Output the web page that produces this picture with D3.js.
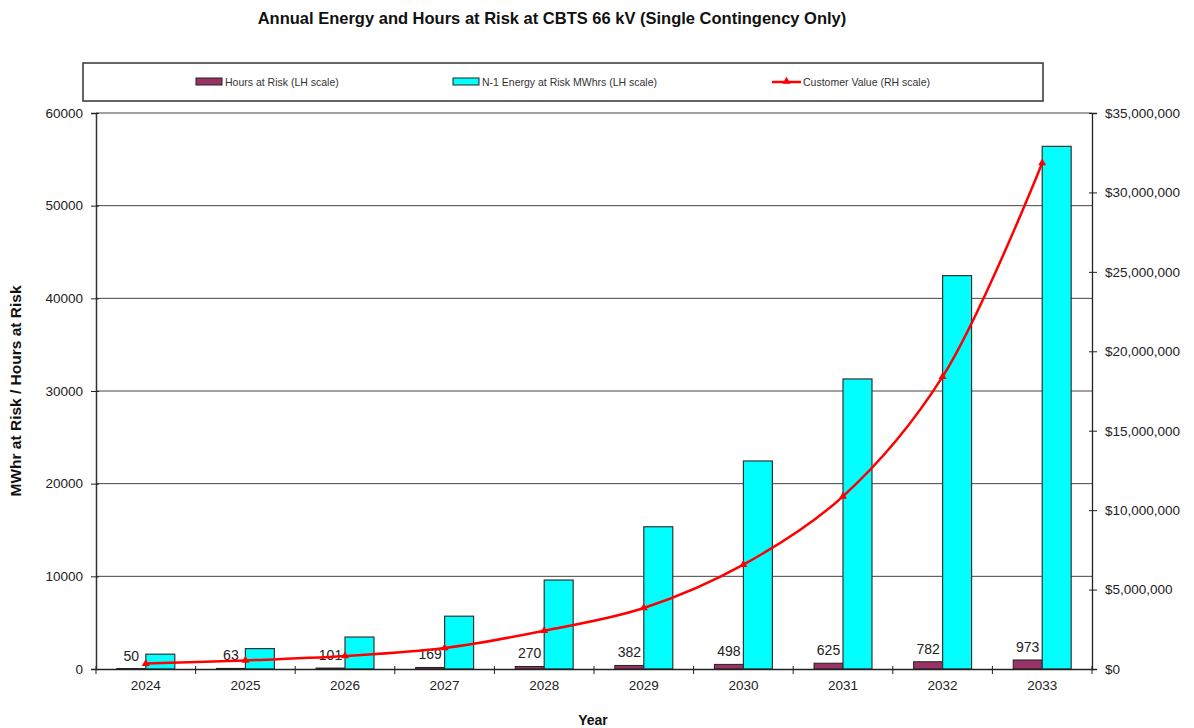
<!DOCTYPE html>
<html>
<head>
<meta charset="utf-8">
<script src="https://cdn.jsdelivr.net/npm/d3@7"></script>
<style>
  body { margin: 0; background: #fff; }
  svg { font-family: Arial, "Liberation Sans", sans-serif; }
</style>
</head>
<body>
<div id="chart"></div>
<script>
// chart data
var years = ["2024", "2025", "2026", "2027", "2028", "2029", "2030", "2031", "2032", "2033"];
var hoursAtRisk = [50, 63, 101, 169, 270, 382, 498, 625, 782, 973];
var energyAtRisk = [1600, 2200, 3450, 5700, 9600, 15350, 22450, 31300, 42450, 56400];
var customerValue = [340000, 540000, 820000, 1320000, 2410000, 3840000, 6570000, 10870000, 18400000, 31850000];
var leftTicks = [0, 10000, 20000, 30000, 40000, 50000, 60000];
var rightTicks = [0, 5000000, 10000000, 15000000, 20000000, 25000000, 30000000, 35000000];

var svgWidth = 1194;
var svgHeight = 728;

var margin = { top: 113, right: 102, bottom: 59, left: 96 };
var width = svgWidth - margin.left - margin.right;
var height = svgHeight - margin.top - margin.bottom;

var svg = d3.select("#chart")
  .append("svg")
  .attr("width", svgWidth)
  .attr("height", svgHeight);

var chartGroup = svg.append("g")
  .attr("transform", `translate(${margin.left}, ${margin.top})`);

// scales
var xScale = d3.scaleBand()
  .domain(years)
  .range([0, width]);

var bw = xScale.bandwidth();
var xSub = d3.scaleBand()
  .domain(["hours", "energy"])
  .range([bw * 0.209, bw * 0.791]);

var yLeft = d3.scaleLinear()
  .domain([0, 60000])
  .range([height, 0]);

var yRight = d3.scaleLinear()
  .domain([0, 35000000])
  .range([height, 0]);

// gridlines
chartGroup.append("g")
  .selectAll("line")
  .data(leftTicks.slice(1))
  .enter()
  .append("line")
  .attr("x1", 0)
  .attr("x2", width)
  .attr("y1", d => yLeft(d))
  .attr("y2", d => yLeft(d))
  .attr("stroke", "#444")
  .attr("stroke-width", 1);

// bars
var rows = years.map((y, i) => ({ year: y, hours: hoursAtRisk[i], energy: energyAtRisk[i], value: customerValue[i] }));

chartGroup.append("g").selectAll("rect")
  .data(rows)
  .enter()
  .append("rect")
  .attr("x", d => xScale(d.year) + xSub("hours"))
  .attr("y", d => yLeft(d.hours))
  .attr("width", xSub.bandwidth())
  .attr("height", d => height - yLeft(d.hours))
  .attr("fill", "#993366")
  .attr("stroke", "#222")
  .attr("stroke-width", 1);

chartGroup.append("g").selectAll("rect")
  .data(rows)
  .enter()
  .append("rect")
  .attr("x", d => xScale(d.year) + xSub("energy"))
  .attr("y", d => yLeft(d.energy))
  .attr("width", xSub.bandwidth())
  .attr("height", d => height - yLeft(d.energy))
  .attr("fill", "#00FFFF")
  .attr("stroke", "#333")
  .attr("stroke-width", 1.2);

// hours labels
chartGroup.append("g").selectAll("text")
  .data(rows)
  .enter()
  .append("text")
  .text(d => d.hours)
  .attr("x", d => xScale(d.year) + xSub("hours") + xSub.bandwidth() / 2)
  .attr("y", d => yLeft(d.hours) - 8)
  .attr("text-anchor", "middle")
  .attr("font-size", "14px")
  .attr("fill", "#222");

// axes
var bottomAxis = d3.axisBottom(xScale).tickSize(0).tickPadding(11);
var gx = chartGroup.append("g")
  .attr("transform", `translate(0, ${height})`)
  .call(bottomAxis);
gx.select(".domain").attr("stroke", "#222").attr("stroke-width", 1.3);
gx.selectAll("text").attr("font-size", "13.5px").attr("fill", "#222");

// category separator ticks
chartGroup.append("g").selectAll("line")
  .data(years.concat(["end"]))
  .enter()
  .append("line")
  .attr("x1", (d, i) => i * bw)
  .attr("x2", (d, i) => i * bw)
  .attr("y1", height - 3)
  .attr("y2", height + 5)
  .attr("stroke", "#222");

var leftAxis = d3.axisLeft(yLeft).tickValues(leftTicks).tickSize(5).tickPadding(8).tickFormat(d3.format("d"));
var gl = chartGroup.append("g").call(leftAxis);
gl.select(".domain").attr("stroke", "#333").attr("stroke-width", 1.5);
gl.selectAll(".tick line").attr("x2", 3).attr("x1", -5).attr("stroke", "#222");
gl.selectAll("text").attr("font-size", "13.5px").attr("fill", "#222");

var rightAxis = d3.axisRight(yRight).tickValues(rightTicks).tickSize(5).tickPadding(8)
  .tickFormat(d => "$" + d3.format(",")(d));
var gr = chartGroup.append("g")
  .attr("transform", `translate(${width}, 0)`)
  .call(rightAxis);
gr.select(".domain").attr("stroke", "#222").attr("stroke-width", 1.3);
gr.selectAll(".tick line").attr("x1", -3).attr("x2", 5).attr("stroke", "#222");
gr.selectAll("text").attr("font-size", "13.5px").attr("fill", "#222");

// customer value line
var line = d3.line()
  .x(d => xScale(d.year) + bw / 2)
  .y(d => yRight(d.value))
  .curve(d3.curveCatmullRom.alpha(0.5));

chartGroup.append("path")
  .datum(rows)
  .attr("d", line)
  .attr("fill", "none")
  .attr("stroke", "#FF0000")
  .attr("stroke-width", 2.5);

var tri = d3.symbol().type(d3.symbolTriangle).size(28);
chartGroup.append("g").selectAll("path")
  .data(rows)
  .enter()
  .append("path")
  .attr("d", tri)
  .attr("transform", d => `translate(${xScale(d.year) + bw / 2}, ${yRight(d.value)})`)
  .attr("fill", "#FF0000");

// title
svg.append("text")
  .attr("x", 552)
  .attr("y", 24)
  .attr("text-anchor", "middle")
  .attr("font-size", "16.5px")
  .attr("font-weight", "bold")
  .attr("fill", "#111")
  .text("Annual Energy and Hours at Risk at CBTS 66 kV (Single Contingency Only)");

// axis labels
svg.append("text")
  .attr("transform", "rotate(-90)")
  .attr("x", -391)
  .attr("y", 21)
  .attr("text-anchor", "middle")
  .attr("font-size", "15.5px")
  .attr("font-weight", "bold")
  .attr("fill", "#111")
  .text("MWhr at Risk / Hours at Risk");

svg.append("text")
  .attr("x", 593)
  .attr("y", 725)
  .attr("text-anchor", "middle")
  .attr("font-size", "14px")
  .attr("font-weight", "bold")
  .attr("fill", "#111")
  .text("Year");

// legend
var legend = svg.append("g");
legend.append("rect")
  .attr("x", 83)
  .attr("y", 63)
  .attr("width", 960)
  .attr("height", 38)
  .attr("fill", "#fff")
  .attr("stroke", "#333")
  .attr("stroke-width", 1.5);

legend.append("rect")
  .attr("x", 196).attr("y", 78).attr("width", 26).attr("height", 7)
  .attr("fill", "#993366").attr("stroke", "#222");
legend.append("text")
  .attr("x", 225).attr("y", 86)
  .attr("font-size", "10.5px").attr("fill", "#333")
  .text("Hours at Risk (LH scale)");

legend.append("rect")
  .attr("x", 453).attr("y", 78).attr("width", 26).attr("height", 7)
  .attr("fill", "#00FFFF").attr("stroke", "#222");
legend.append("text")
  .attr("x", 482).attr("y", 86)
  .attr("font-size", "10.5px").attr("fill", "#333")
  .text("N-1 Energy at Risk MWhrs (LH scale)");

legend.append("line")
  .attr("x1", 772).attr("x2", 801).attr("y1", 82).attr("y2", 82)
  .attr("stroke", "#FF0000").attr("stroke-width", 2.5);
legend.append("path")
  .attr("d", tri)
  .attr("transform", "translate(786.5, 81.5)")
  .attr("fill", "#FF0000");
legend.append("text")
  .attr("x", 803).attr("y", 86)
  .attr("font-size", "10.5px").attr("fill", "#333")
  .text("Customer Value (RH scale)");
</script>
</body>
</html>
